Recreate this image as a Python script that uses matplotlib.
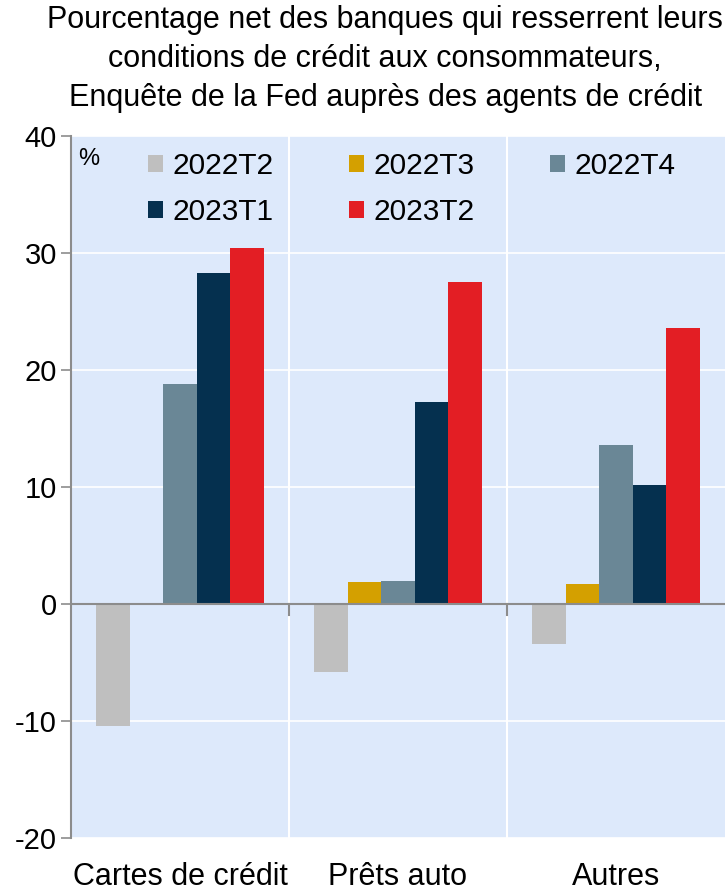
import matplotlib
matplotlib.use("Agg")
import matplotlib.pyplot as plt
import numpy as np

plt.rcParams['font.family'] = ['Liberation Sans', 'DejaVu Sans']

categories = ["Cartes de crédit", "Prêts auto", "Autres"]
series = ["2022T2", "2022T3", "2022T4", "2023T1", "2023T2"]
v_2022T2 = [-10.4, -5.8, -3.4]
v_2022T3 = [0.0, 1.9, 1.7]
v_2022T4 = [18.8, 2.0, 13.6]
v_2023T1 = [28.3, 17.3, 10.2]
v_2023T2 = [30.4, 27.5, 23.6]
values = [v_2022T2, v_2022T3, v_2022T4, v_2023T1, v_2023T2]
colors = ["#BFBFBF", "#D4A000", "#6A8796", "#05304F", "#E31E24"]
yticks = [-20, -10, 0, 10, 20, 30, 40]

fig = plt.figure(figsize=(7.28, 8.9), dpi=100)
ax = fig.add_axes([0.0975, 0.0584, 0.8984, 0.7888])
ax.set_facecolor("#DDE9FB")

x = np.arange(len(categories))
bw = 0.154
handles = []
for i, (s, vals, c) in enumerate(zip(series, values, colors)):
    h = ax.bar(x + (i - 2) * bw, vals, bw, color=c, label=s, zorder=3)
    handles.append(h)

ax.set_xlim(-0.5, 2.5)
ax.set_ylim(-20, 40)
ax.set_yticks(yticks)
ax.set_yticklabels([str(t) for t in yticks], fontsize=21)
ax.grid(axis='y', color='white', linewidth=1.2, zorder=1)
for b in [0.5, 1.5]:
    ax.axvline(b, color='white', linewidth=1.5, zorder=1)
ax.axhline(0, color='#8C8C8C', linewidth=1.5, zorder=4)
for b in [0.5, 1.5]:
    ax.plot([b, b], [0, -0.9], color='#8C8C8C', linewidth=1.5, zorder=4, clip_on=False)

ax.set_xticks(x)
ax.set_xticklabels(categories, fontsize=22)
ax.tick_params(axis='x', length=0, pad=17)
ax.tick_params(axis='y', length=7, color='#8C8C8C', width=1.2, pad=3)
for sp in ['top', 'right', 'bottom']:
    ax.spines[sp].set_visible(False)
ax.spines['left'].set_color('#8C8C8C')
ax.spines['left'].set_linewidth(1.5)

ax.text(0.011, 0.983, "%", transform=ax.transAxes, fontsize=17, va='top', ha='left')

order = [0, 3, 1, 4, 2]
leg = ax.legend([handles[k] for k in order], [series[k] for k in order],
                loc='upper left', bbox_to_anchor=(0.118, 0.977), ncol=3, frameon=False,
                fontsize=21.5, handlelength=0.5, handleheight=0.5, handletextpad=0.3,
                columnspacing=2.55, labelspacing=0.6, borderaxespad=0, borderpad=0)

fig.text(0.529, 0.994, "Pourcentage net des banques qui resserrent leurs\n"
         "conditions de crédit aux consommateurs,\n"
         "Enquête de la Fed auprès des agents de crédit",
         ha='center', va='top', fontsize=22, linespacing=1.38)

fig.savefig("out.png", dpi=100)
